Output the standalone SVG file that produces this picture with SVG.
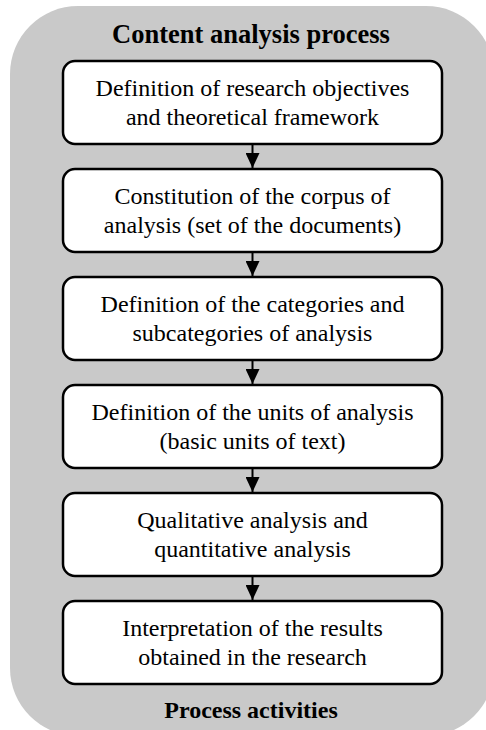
<svg xmlns="http://www.w3.org/2000/svg" width="486" height="730" viewBox="0 0 486 730">
<defs>
<style>
.bg{fill:#c9c9c9;stroke:none}
.box{fill:#fff;stroke:#000;stroke-width:2.5}
.t{font-family:"Liberation Serif","Times New Roman",serif;font-size:24px;fill:#000;text-anchor:middle}
.h{font-family:"Liberation Serif","Times New Roman",serif;font-weight:bold;fill:#000;text-anchor:middle}
.c{stroke:#000;stroke-width:2;fill:none;marker-end:url(#ah)}
</style>
<marker id="ah" markerUnits="userSpaceOnUse" markerWidth="15" markerHeight="14" refX="15" refY="7" orient="auto" viewBox="0 0 15 14">
<path d="M0,0 L15,7 L0,14 z" fill="#000"/>
</marker>
</defs>
<g id="container">
<rect class="bg" x="10" y="6" width="484" height="730" rx="68" ry="68"/>
<text class="h" x="251" y="43" font-size="26.5">Content analysis process</text>
<text class="h" x="251" y="718" font-size="24">Process activities</text>
</g>
<g id="connectors">
<line class="c" x1="252.5" y1="145" x2="252.5" y2="168"/>
<line class="c" x1="252.5" y1="253" x2="252.5" y2="276"/>
<line class="c" x1="252.5" y1="361" x2="252.5" y2="384"/>
<line class="c" x1="252.5" y1="469" x2="252.5" y2="492"/>
<line class="c" x1="252.5" y1="577" x2="252.5" y2="600"/>
</g>
<g id="n1">
<rect class="box" x="63" y="61" width="379" height="83" rx="12"/>
<text class="t" x="252.5" y="96">Definition of research objectives</text>
<text class="t" x="252.5" y="124.5">and theoretical framework</text>
</g>
<g id="n2">
<rect class="box" x="63" y="169" width="379" height="83" rx="12"/>
<text class="t" x="252.5" y="204">Constitution of the corpus of</text>
<text class="t" x="252.5" y="232.5">analysis (set of the documents)</text>
</g>
<g id="n3">
<rect class="box" x="63" y="277" width="379" height="83" rx="12"/>
<text class="t" x="252.5" y="312">Definition of the categories and</text>
<text class="t" x="252.5" y="340.5">subcategories of analysis</text>
</g>
<g id="n4">
<rect class="box" x="63" y="385" width="379" height="83" rx="12"/>
<text class="t" x="252.5" y="420">Definition of the units of analysis</text>
<text class="t" x="252.5" y="448.5">(basic units of text)</text>
</g>
<g id="n5">
<rect class="box" x="63" y="493" width="379" height="83" rx="12"/>
<text class="t" x="252.5" y="528">Qualitative analysis and</text>
<text class="t" x="252.5" y="556.5">quantitative analysis</text>
</g>
<g id="n6">
<rect class="box" x="63" y="601" width="379" height="83" rx="12"/>
<text class="t" x="252.5" y="636">Interpretation of the results</text>
<text class="t" x="252.5" y="664.5">obtained in the research</text>
</g>
</svg>
